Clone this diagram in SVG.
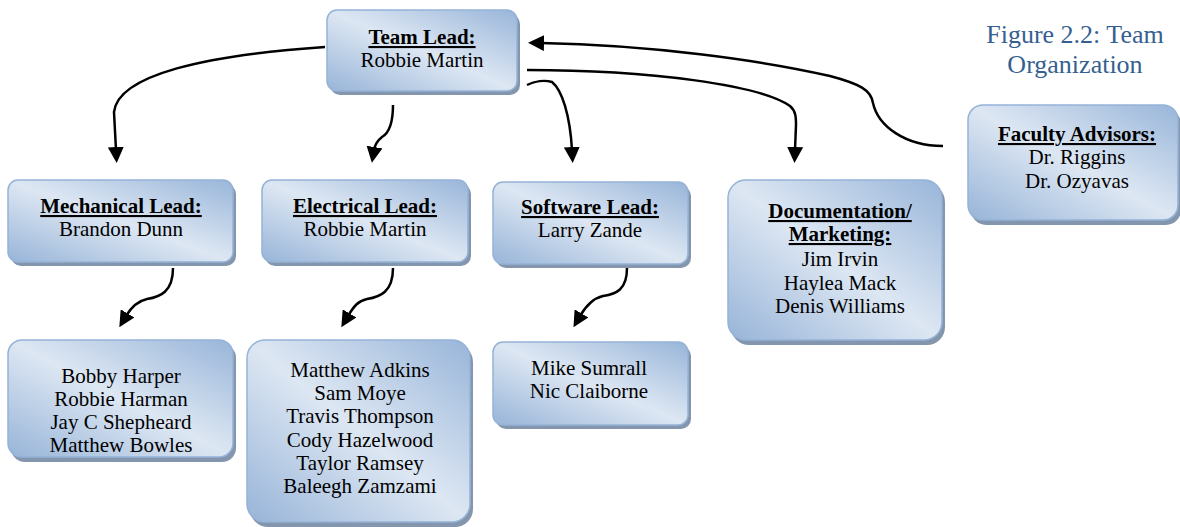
<svg xmlns="http://www.w3.org/2000/svg" width="1180" height="527" viewBox="0 0 1180 527">
<style>
.box{fill:url(#g);stroke:#95b3d7;stroke-width:1.5}
.sh{fill:#8496ad}
text{font-family:"Liberation Serif","Times New Roman",serif;font-size:21px;fill:#000;text-anchor:middle}
.t{font-weight:bold;text-decoration:underline}
.cap{fill:#365f91;font-size:26px}
.c{fill:none;stroke:#000;stroke-width:2.5}
</style>
<defs>
<linearGradient id="g" x1="0" y1="1" x2="1" y2="0">
<stop offset="0" stop-color="#97b4d8"/>
<stop offset="0.5" stop-color="#dde7f3"/>
<stop offset="1" stop-color="#98b5d9"/>
</linearGradient>
<marker id="a" viewBox="0 0 16 16" refX="3" refY="8" markerWidth="16" markerHeight="16" markerUnits="userSpaceOnUse" orient="auto">
<path d="M0,0 L16,8 L0,16 z" fill="#000"/>
</marker>
</defs>

<g id="caption">
<text class="cap" x="1075" y="43">Figure 2.2: Team</text>
<text class="cap" x="1075" y="73">Organization</text>
</g>

<g id="connectors">
<path class="c" marker-end="url(#a)" d="M325,47 C205,55 118,75 114,112 L116,150"/>
<path class="c" marker-end="url(#a)" d="M393,105 C393,124 389,133 382,137 C377,141 375,144 374,150"/>
<path class="c" marker-end="url(#a)" d="M527,85 C535,81 545,80 552,82 C562,90 570,115 572,150"/>
<path class="c" marker-end="url(#a)" d="M527,70 C650,70 760,85 790,106 C796,111 796,118 796,125 L795,150"/>
<path class="c" marker-end="url(#a)" d="M943,146 C905,146 878,126 873,103 C871,90 860,84 830,76 C760,60 650,45 541,43"/>
<path class="c" marker-end="url(#a)" d="M173,268 C173,292 160,297 147,299 C138,301 132,306 126,316"/>
<path class="c" marker-end="url(#a)" d="M393,268 C393,292 380,297 367,299 C358,301 354,306 348,316"/>
<path class="c" marker-end="url(#a)" d="M627,268 C627,290 616,294 603,296 C594,298 587,304 580,316"/>
</g>

<g id="team-lead">
<rect class="sh" x="330" y="14" width="190" height="81" rx="10"/>
<rect class="box" x="327" y="10" width="190" height="81" rx="10"/>
<text class="t" x="422" y="44">Team Lead:</text>
<text x="422" y="67">Robbie Martin</text>
</g>

<g id="mechanical-lead">
<rect class="sh" x="11" y="184" width="225" height="82" rx="10"/>
<rect class="box" x="8" y="180" width="225" height="82" rx="10"/>
<text class="t" x="121" y="213">Mechanical Lead:</text>
<text x="121" y="236">Brandon Dunn</text>
</g>

<g id="electrical-lead">
<rect class="sh" x="265" y="184" width="206" height="82" rx="10"/>
<rect class="box" x="262" y="180" width="206" height="82" rx="10"/>
<text class="t" x="365" y="213">Electrical Lead:</text>
<text x="365" y="236">Robbie Martin</text>
</g>

<g id="software-lead">
<rect class="sh" x="496" y="186" width="195" height="82" rx="10"/>
<rect class="box" x="493" y="182" width="195" height="82" rx="10"/>
<text class="t" x="590" y="214">Software Lead:</text>
<text x="590" y="237">Larry Zande</text>
</g>

<g id="documentation">
<rect class="sh" x="731" y="184" width="214" height="161" rx="18"/>
<rect class="box" x="728" y="180" width="214" height="160" rx="18"/>
<text class="t" x="840" y="218">Documentation/</text>
<text class="t" x="840" y="241">Marketing:</text>
<text x="840" y="266">Jim Irvin</text>
<text x="840" y="290">Haylea Mack</text>
<text x="840" y="313">Denis Williams</text>
</g>

<g id="faculty-advisors">
<rect class="sh" x="971" y="109" width="210" height="116" rx="15"/>
<rect class="box" x="968" y="105" width="210" height="115" rx="15"/>
<text class="t" x="1077" y="141">Faculty Advisors:</text>
<text x="1077" y="164">Dr. Riggins</text>
<text x="1077" y="188">Dr. Ozyavas</text>
</g>

<g id="mechanical-team">
<rect class="sh" x="11" y="344" width="225" height="118" rx="14"/>
<rect class="box" x="8" y="340" width="225" height="117" rx="14"/>
<text x="121" y="383">Bobby Harper</text>
<text x="121" y="406">Robbie Harman</text>
<text x="121" y="429">Jay C Shepheard</text>
<text x="121" y="452">Matthew Bowles</text>
</g>

<g id="electrical-team">
<rect class="sh" x="250" y="344" width="223" height="183" rx="18"/>
<rect class="box" x="247" y="340" width="223" height="182" rx="18"/>
<text x="360" y="377">Matthew Adkins</text>
<text x="360" y="400">Sam Moye</text>
<text x="360" y="423">Travis Thompson</text>
<text x="360" y="447">Cody Hazelwood</text>
<text x="360" y="470">Taylor Ramsey</text>
<text x="360" y="493">Baleegh Zamzami</text>
</g>

<g id="software-team">
<rect class="sh" x="496" y="346" width="195" height="83" rx="10"/>
<rect class="box" x="493" y="342" width="195" height="83" rx="10"/>
<text x="589" y="375">Mike Sumrall</text>
<text x="589" y="398">Nic Claiborne</text>
</g>
</svg>
